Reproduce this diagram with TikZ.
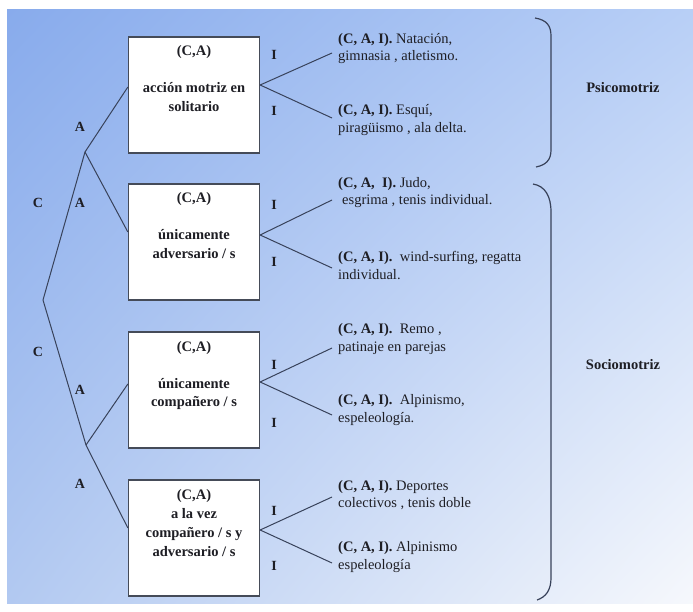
\documentclass[tikz,border=0pt]{standalone}
\usepackage{fontspec}
\setmainfont{Liberation Serif}
\usetikzlibrary{shadings}
\definecolor{bgUL}{HTML}{88ABEC}
\definecolor{bgUR}{HTML}{B8CFF6}
\definecolor{bgLL}{HTML}{B2C9F1}
\definecolor{bgLR}{HTML}{F6F8FC}
\definecolor{ink}{HTML}{1E1E24}
\definecolor{wire}{HTML}{38425A}
\definecolor{boxline}{HTML}{454B58}
\newcommand\bxt[2]{\parbox[c][116pt][t]{128pt}{\centering\fontsize{14.5}{#1}\selectfont\bfseries\rule{0pt}{19pt}#2}}
\begin{document}
\begin{tikzpicture}[x=1pt,y=-1pt,
  box/.style={draw=boxline, line width=1.3pt, fill=white, minimum width=131pt, minimum height=116pt, inner sep=0pt, text=ink},
  wirestyle/.style={draw=wire, line width=1pt},
  lbl/.style={font=\fontsize{14}{16}\selectfont\bfseries, text=ink, inner sep=0pt},
  side/.style={font=\fontsize{14.5}{17.5}\selectfont, text=ink, align=left, anchor=west, inner sep=0pt},
  bracestyle/.style={draw=wire, line width=1.2pt}]
\useasboundingbox (0,0) rectangle (693,612);
\fill[white] (0,0) rectangle (693,612);
\shade[upper left=bgUL, upper right=bgUR, lower left=bgLL, lower right=bgLR] (7,10) rectangle (693,603);

% boxes
\node[box] (b1) at (194,95) {\bxt{18.5}{(C,A)\\[18.5pt]acción motriz en\\solitario}};
\node[box] (b2) at (194,242) {\bxt{18.5}{(C,A)\\[18.5pt]únicamente\\adversario / s}};
\node[box] (b3) at (194,390) {\bxt{18.5}{(C,A)\\[18.5pt]únicamente\\compañero / s}};
\node[box] (b4) at (194,538) {\bxt{19}{(C,A)\\a la vez\\compañero / s y\\adversario / s}};

% tree
\coordinate (root) at (43,300);
\coordinate (j1) at (85,152);
\coordinate (j2) at (86,445);
\draw[wirestyle] (root) -- (j1);
\draw[wirestyle] (root) -- (j2);
\draw[wirestyle] (j1) -- ([yshift=8pt]b1.west);
\draw[wirestyle] (j1) -- ([yshift=10pt]b2.west);
\draw[wirestyle] (j2) -- ([yshift=6pt]b3.west);
\draw[wirestyle] (j2) -- ([yshift=10pt]b4.west);

% tree labels
\node[lbl] (la1) at (80,127) {A};
\node[lbl] (la2) at (80,203) {A};
\node[lbl] (lc1) at (38,203) {C};
\node[lbl] (lc2) at (38,352) {C};
\node[lbl] (la3) at (80,390) {A};
\node[lbl] (la4) at (80,484) {A};

% I labels
\node[lbl] (i1) at (274,55) {I};
\node[lbl] (i2) at (274,111) {I};
\node[lbl] (i3) at (274,205) {I};
\node[lbl] (i4) at (274,262) {I};
\node[lbl] (i5) at (274,365) {I};
\node[lbl] (i6) at (274,423) {I};
\node[lbl] (i7) at (274,511) {I};
\node[lbl] (i8) at (274,566) {I};

% side texts
\node[side] (t1) at (338,48.5) {\textbf{(C, A, I).} Natación,\\gimnasia , atletismo.};
\node[side] (t2) at (338,120) {\textbf{(C, A, I).} Esquí,\\piragüismo , ala delta.};
\node[side] (t3) at (338,192.5) {\textbf{(C, A,\ \ I).} Judo,\\\hspace{4pt}esgrima , tenis individual.};
\node[side] (t4) at (338,265.5) {\textbf{(C, A, I).}\ \ wind-surfing, regatta\\individual.};
\node[side] (t5) at (338,339) {\textbf{(C, A, I).}\ \ Remo ,\\patinaje en parejas};
\node[side] (t6) at (338,410) {\textbf{(C, A, I).}\ \ Alpinismo,\\espeleología.};
\node[side] (t7) at (338,495) {\textbf{(C, A, I).} Deportes\\colectivos , tenis doble};
\node[side] (t8) at (338,557) {\textbf{(C, A, I).} Alpinismo\\espeleología};

% fans
\draw[wirestyle] ([yshift=10pt]b1.east) -- ([xshift=-6pt,yshift=-4.5pt]t1.west);
\draw[wirestyle] ([yshift=10pt]b1.east) -- ([xshift=-6pt,yshift=2pt]t2.west);
\draw[wirestyle] ([yshift=7pt]b2.east) -- ([xshift=-6pt,yshift=-7.5pt]t3.west);
\draw[wirestyle] ([yshift=7pt]b2.east) -- ([xshift=-6pt,yshift=-2.5pt]t4.west);
\draw[wirestyle] ([yshift=8pt]b3.east) -- ([xshift=-6pt,yshift=-9pt]t5.west);
\draw[wirestyle] ([yshift=8pt]b3.east) -- ([xshift=-6pt,yshift=-5pt]t6.west);
\draw[wirestyle] ([yshift=8pt]b4.east) -- ([xshift=-6pt,yshift=-2pt]t7.west);
\draw[wirestyle] ([yshift=8pt]b4.east) -- ([xshift=-6pt,yshift=-6pt]t8.west);

% braces
\draw[bracestyle] (535,18) .. controls (547,20) and (551,26) .. (551,36) -- (551,150) .. controls (551,160) and (546,165) .. (536,167);
\draw[bracestyle] (533,184) .. controls (545,186) and (551,196) .. (551,212) -- (551,578) .. controls (551,590) and (546,597) .. (537,600);

\node[lbl, font=\fontsize{14.5}{16}\selectfont\bfseries] (psi) at (623,88) {Psicomotriz};
\node[lbl, font=\fontsize{14.5}{16}\selectfont\bfseries] (soc) at (623,365) {Sociomotriz};
\end{tikzpicture}
\end{document}
